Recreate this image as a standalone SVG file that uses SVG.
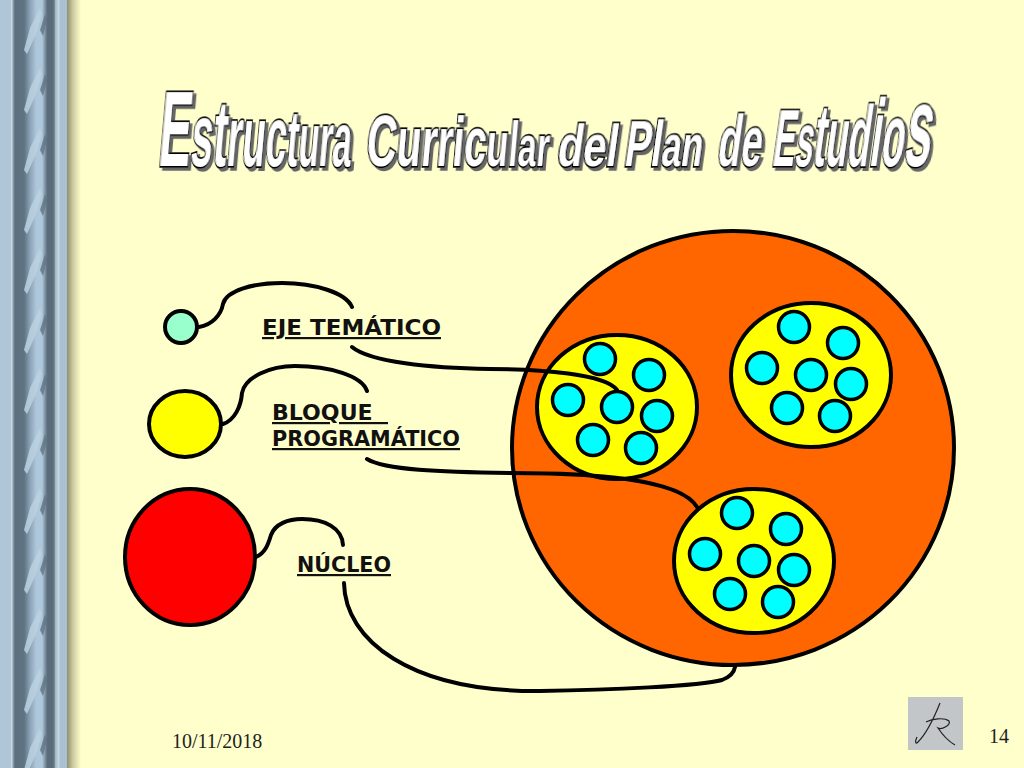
<svg xmlns="http://www.w3.org/2000/svg" xmlns:xlink="http://www.w3.org/1999/xlink" width="1024" height="768" viewBox="0 0 1024 768">
<style>
.ln{fill:none;stroke:#000;stroke-width:4;stroke-linecap:round;stroke-linejoin:round}
.sh{stroke:#000;stroke-width:4}
.cy{fill:#00FFFF;stroke:#000;stroke-width:3.500}
.t{font-family:"Liberation Sans",Arial,sans-serif;font-weight:700;fill:#fff;stroke:#000;stroke-width:3.400;stroke-linejoin:miter;paint-order:stroke;filter:url(#ds)}
.lb{font-family:"DejaVu Sans",sans-serif;font-weight:700;font-size:22px;fill:#111;text-decoration:underline;white-space:pre}
.ft{font-family:"Liberation Serif",serif;font-size:20px;fill:#222}
.hl{fill:#BBD1E2;opacity:.85}
.hd{fill:#5F7383;opacity:.8}
</style>
<defs>
<linearGradient id="bar" gradientUnits="userSpaceOnUse" x1="0" x2="67" y1="0" y2="0">
<stop offset="0" stop-color="#AEC6D8"/><stop offset=".165" stop-color="#AEC6D8"/><stop offset=".175" stop-color="#D5E2EC"/><stop offset=".195" stop-color="#8A9FB0"/><stop offset=".225" stop-color="#5C6F7E"/><stop offset=".36" stop-color="#5F7382"/><stop offset=".45" stop-color="#8BA3B6"/><stop offset=".54" stop-color="#AFC7DA"/><stop offset=".63" stop-color="#AFC7DA"/><stop offset=".69" stop-color="#6B7F8F"/><stop offset=".71" stop-color="#5A6C7A"/><stop offset=".79" stop-color="#5A6C7A"/><stop offset=".82" stop-color="#7F909D"/><stop offset=".835" stop-color="#C5D6E3"/><stop offset=".85" stop-color="#9DB4C6"/><stop offset=".865" stop-color="#CFDDE8"/><stop offset=".9" stop-color="#A9C1D3"/><stop offset="1" stop-color="#A9C1D3"/>
</linearGradient>
<linearGradient id="bs" x1="0" x2="1" y1="0" y2="0">
<stop offset="0" stop-color="#8E8F70"/><stop offset=".4" stop-color="#C8C89C"/><stop offset="1" stop-color="#FFFFCC"/>
</linearGradient>
<pattern id="tw" width="67" height="60" patternUnits="userSpaceOnUse">
<path class="hl" d="M24 50L30 28L40 8L42 14L36 34L27 54Z"/>
<path class="hd" d="M40 30L45 14L47 20L43 36Z"/>
</pattern>
<filter id="ds" x="-5%" y="-5%" width="112%" height="118%"><feDropShadow dx="3" dy="3" stdDeviation=".5" flood-color="#666"/></filter>
<g id="cl">
<ellipse cx="0" cy="0" rx="80" ry="72" fill="#FFFF00" class="sh"/>
<circle class="cy" cx="-17" cy="-48" r="15.500"/><circle class="cy" cx="32" cy="-32" r="15.500"/><circle class="cy" cx="-49" cy="-7" r="15.500"/><circle class="cy" cx="0" cy="0" r="15.500"/><circle class="cy" cx="40" cy="9" r="15.500"/><circle class="cy" cx="-24" cy="33" r="15.500"/><circle class="cy" cx="24" cy="41" r="15.500"/>
</g>
</defs>
<rect width="1024" height="768" fill="#FFFFCC"/>
<rect x="67" width="14" height="768" fill="url(#bs)"/>
<rect width="67" height="768" fill="url(#bar)"/>
<rect width="67" height="768" fill="url(#tw)"/>

<g id="title">
<text class="t" transform="translate(157,166) skewX(-5)" textLength="193" lengthAdjust="spacingAndGlyphs"><tspan font-size="108">E</tspan><tspan font-size="88">s</tspan><tspan font-size="95">t</tspan><tspan font-size="85">ruc</tspan><tspan font-size="80">t</tspan><tspan font-size="76">ura</tspan></text>
<text class="t" transform="translate(365,166) skewX(-5)" textLength="183" lengthAdjust="spacingAndGlyphs"><tspan font-size="72">C</tspan><tspan font-size="70">urric</tspan><tspan font-size="62">ul</tspan><tspan font-size="57">ar</tspan></text>
<text class="t" transform="translate(556,166) skewX(-8)" textLength="60" lengthAdjust="spacingAndGlyphs" font-size="58">del</text>
<text class="t" transform="translate(623,166) skewX(-8)" textLength="78" lengthAdjust="spacingAndGlyphs"><tspan font-size="65">Pl</tspan><tspan font-size="58">an</tspan></text>
<text class="t" transform="translate(716,166) skewX(-8)" textLength="44" lengthAdjust="spacingAndGlyphs" font-size="72">de</text>
<text class="t" transform="translate(771,166) skewX(-8)" textLength="158" lengthAdjust="spacingAndGlyphs"><tspan font-size="80">E</tspan><tspan font-size="76">s</tspan><tspan font-size="88">t</tspan><tspan font-size="85">u</tspan><tspan font-size="87">d</tspan><tspan font-size="96">i</tspan><tspan font-size="89">o</tspan><tspan font-size="114">s</tspan></text>
</g>

<g id="nodo-grande"><ellipse cx="733" cy="448" rx="221" ry="217" fill="#FF6600" class="sh"/></g>
<use id="bloque-1" xlink:href="#cl" href="#cl" x="617" y="407"/>
<use id="bloque-2" xlink:href="#cl" href="#cl" x="811" y="375"/>
<use id="bloque-3" xlink:href="#cl" href="#cl" x="754" y="561"/>

<g id="leyenda-eje"><circle cx="181" cy="327" r="16" fill="#99FFCC" class="sh"/></g>
<g id="leyenda-bloque"><ellipse cx="185" cy="424" rx="36" ry="33" fill="#FFFF00" class="sh"/></g>
<g id="leyenda-nucleo"><ellipse cx="190" cy="557" rx="65" ry="68" fill="#FF0000" class="sh"/></g>

<g id="connectors">
<path class="ln" d="M199 327C212 325 221 315 223 304C226 291 252 283 282 283C315 283 346 293 352 307"/>
<path class="ln" d="M223 424C235 420 241 406 242 393C245 377 270 366 295 366C330 366 362 376 367 391"/>
<path class="ln" d="M256 557C265 553 268 545 271 535C275 524 288 519 302 519C325 519 342 528 343 545"/>
<path class="ln" d="M352 347C370 362 430 368 490 369C540 369 606 374 617 390"/>
<path class="ln" d="M367 459C385 470 440 472 510 473C590 473 680 478 697 507"/>
<path class="ln" d="M344 583C345 640 410 692 540 691C610 690 700 686 722 680C730 677 734 673 735 667"/>
</g>

<g id="etiquetas">
<text class="lb" x="262" y="335" textLength="179" lengthAdjust="spacingAndGlyphs">EJE TEMÁTICO</text>
<text class="lb" x="272" y="420" textLength="116" lengthAdjust="spacingAndGlyphs">BLOQUE  </text>
<text class="lb" x="272" y="446" textLength="188" lengthAdjust="spacingAndGlyphs">PROGRAMÁTICO</text>
<text class="lb" x="297" y="572" textLength="94" lengthAdjust="spacingAndGlyphs">NÚCLEO</text>
<text class="ft" x="172" y="748">10/11/2018</text>
<text class="ft" x="989" y="743">14</text>
</g>

<g id="firma">
<rect x="908" y="697" width="55" height="53" fill="#C2C6C9"/>
<path d="M940 703C934 718 926 734 918 742C915 745 915 741 917 737M926 722C932 719 944 717 949 721C951 725 942 730 938 728C942 734 948 741 955 745" fill="none" stroke="#222" stroke-width="1.200"/>
</g>
</svg>
